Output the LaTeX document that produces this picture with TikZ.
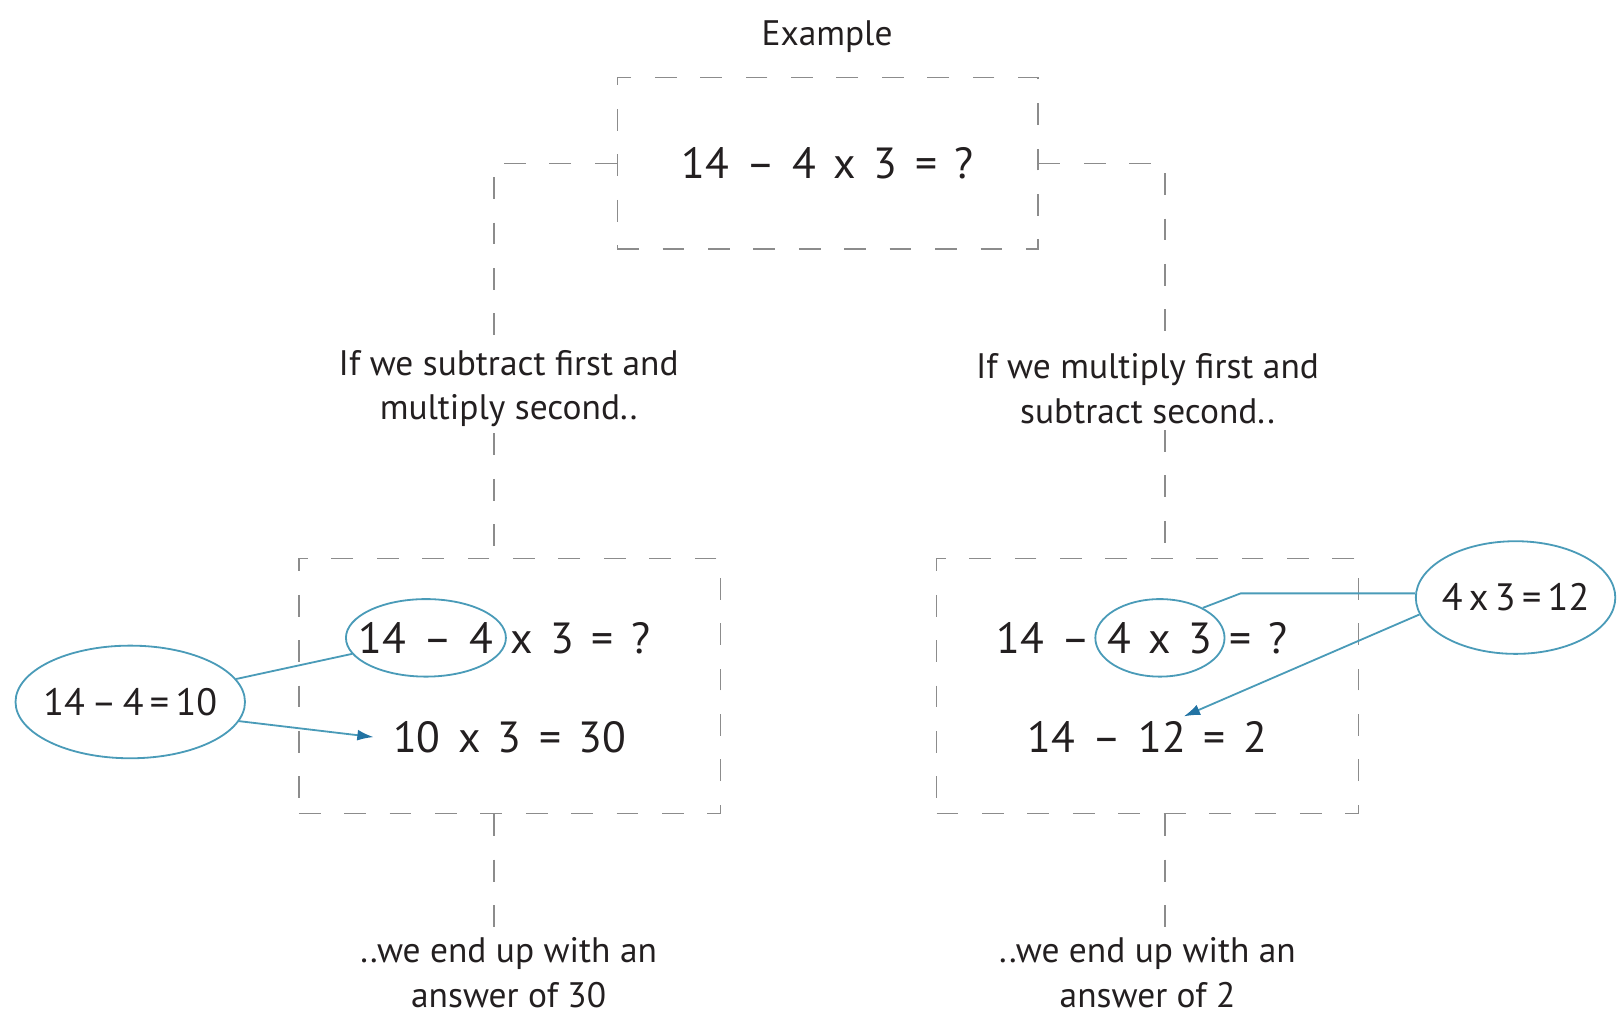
\documentclass[tikz,border=0pt]{standalone}
\usepackage{fontspec}
\setmainfont{PT Sans}
\usetikzlibrary{shapes.geometric, arrows.meta, positioning}
\definecolor{inkgray}{HTML}{231F20}
\definecolor{dashgray}{HTML}{8C8C8C}
\definecolor{ovalblue}{HTML}{4A9BB8}
\definecolor{arrowblue}{HTML}{2273A3}
\newcommand{\gp}{\hspace{0.4em}}

\begin{document}
\begin{tikzpicture}[
    x=0.02cm, y=-0.02cm,
    every node/.style={text=inkgray},
    note/.style={align=center, font=\fontsize{19.5}{24.4}\selectfont},
    eq/.style={font=\fontsize{24}{28}\selectfont, inner sep=2pt},
    sumbox/.style={draw=dashgray, dash pattern=on 12pt off 13pt, line width=0.8pt},
    link/.style={draw=dashgray, dash pattern=on 12pt off 13pt, line width=0.8pt},
    oval/.style={ellipse, draw=ovalblue, line width=1pt, inner xsep=-6pt, inner ysep=1pt},
    hint/.style={oval, font=\fontsize{21}{24}\selectfont},
    pointer/.style={draw=ovalblue, line width=1pt},
    arrowto/.style={pointer, -{Latex[length=9pt, width=6pt, color=arrowblue]}}
]
    \useasboundingbox (0,0) rectangle (1568,983);

    % Question
    \node[note] (title) at (800,35) {Example};
    \node[sumbox, eq, minimum width=8.14cm, minimum height=3.32cm] (top) at (800.5,158)
        {14\gp–\gp4\gp x\gp3\gp=\gp?};

    % Columns of the two branches
    \coordinate (cl) at (478,0);
    \coordinate (cr) at (1127,0);

    % Subtract first
    \node[note] (lt) at (492,376) {If we subtract first and\\multiply second..};
    \node[sumbox, minimum width=8.16cm, minimum height=4.94cm] (lb) at (493,663.5) {};
    \node[eq, oval, minimum width=3.04cm, minimum height=1.5cm] (lsub) at (412,617) {14\gp–\gp4};
    \node[eq, anchor=west] (lrest) at (lsub.east) {x\gp3\gp=\gp?};
    \node[eq] (lres) at (493,713) {10\gp x\gp3\gp=\gp30};
    \node[hint, minimum width=4.44cm, minimum height=2.18cm] (lhint) at (126,679) {14\,–\,4\,=\,10};
    \node[note] (lend) at (492,941) {..we end up with an\\answer of 30};

    % Multiply first
    \node[note] (rt) at (1110,376) {If we multiply first and\\subtract second..};
    \node[sumbox, minimum width=8.16cm, minimum height=4.94cm] (rb) at (1110,663.5) {};
    \node[eq, oval, minimum width=2.5cm, minimum height=1.5cm] (rmul) at (1122,617) {4\gp x\gp3};
    \node[eq, anchor=east] (rfront) at (rmul.west) {14\gp–};
    \node[eq, anchor=west] (rback) at (rmul.east) {=\gp?};
    \node[eq] (rres) at (1110,713) {14\gp–\gp12\gp=\gp2};
    \node[hint, minimum width=3.86cm, minimum height=2.18cm] (rhint) at (1466,578) {4\,x\,3\,=\,12};
    \node[note] (rend) at (1110,941) {..we end up with an\\answer of 2};

    % Dashed links
    \draw[link] (top.west) -| (cl |- lt.north);
    \draw[link] (top.east) -| (cr |- rt.north);
    \draw[link] (cl |- lt.south) -- (cl |- lb.north);
    \draw[link] (cr |- rt.south) -- (cr |- rb.north);
    \draw[link] (cl |- lb.south) -- (cl |- lend.north);
    \draw[link] (cr |- rb.south) -- (cr |- rend.north);

    % Blue pointers
    \draw[pointer] (lhint) -- (lsub);
    \draw[arrowto] (lhint.-10) -- ([xshift=-0.3cm]lres.west);
    \coordinate (kink) at (1200,574);
    \coordinate (tip) at (1145,693);
    \draw[pointer] (rmul.35) -- (kink) -- (kink -| rhint.west);
    \draw[arrowto] (rhint.190) -- (tip);
\end{tikzpicture}
\end{document}
